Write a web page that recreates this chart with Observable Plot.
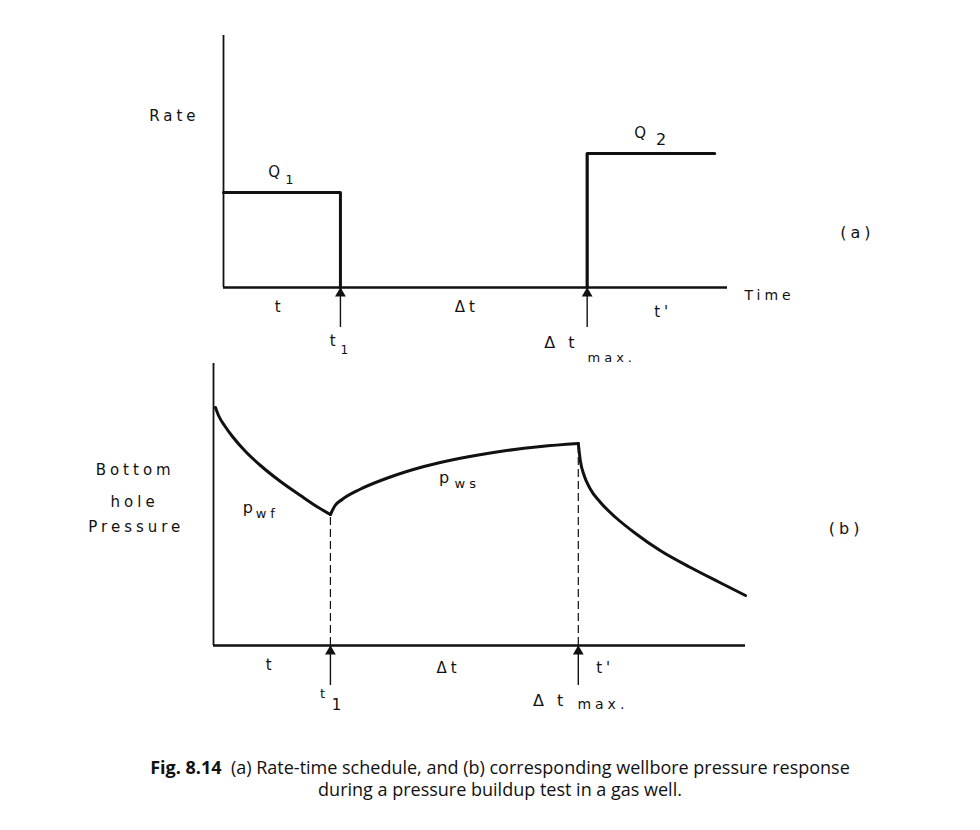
<!DOCTYPE html>
<html>
<head>
<meta charset="utf-8">
<script src="https://cdn.jsdelivr.net/npm/d3@7"></script>
<script src="https://cdn.jsdelivr.net/npm/@observablehq/plot@0.6"></script>
<style>
  body { margin: 0; background: #fff; }
  #wrap { width: 980px; }
  svg { display: block; overflow: visible; }
  .caption { font-family: "Open Sans", sans-serif; font-size: 18px; color: #111; text-align: center; line-height: 22px; margin-top: 16px; padding-left: 20px; }
  .caption b { font-weight: 700; }
</style>
</head>
<body>
<div id="wrap"></div>
<script>
// ---------- Panel (a): rate-time schedule ----------
const t1 = 1.0;          // end of first flow period
const tmaxA = 3.11;      // end of shut-in (panel a)
const tEndA = 4.2;       // end of second flow line
const Q1 = 0.95;
const Q2 = 1.34;
const q1Time = [0, t1, t1];
const q1Rate = [Q1, Q1, 0];
const q2Time = [tmaxA, tmaxA, tEndA];
const q2Rate = [0, Q2, Q2];

// ---------- Panel (b): bottom hole pressure ----------
const pwfTime = [0.017, 0.043, 0.094, 0.162, 0.274, 0.402, 0.573, 0.744, 0.897, 1.0];
const pwfPres = [2.38, 2.30, 2.20, 2.09, 1.94, 1.80, 1.64, 1.50, 1.38, 1.31];
const pwsTime = [1.0, 1.04, 1.10, 1.25, 1.50, 1.80, 2.10, 2.45, 2.80, 3.12];
const pwsPres = [1.31, 1.40, 1.46, 1.56, 1.68, 1.79, 1.87, 1.94, 1.99, 2.02];
const pdTime  = [3.12, 3.137, 3.17, 3.22, 3.31, 3.44, 3.61, 3.82, 4.08, 4.33, 4.55];
const pdPres  = [2.02, 1.85, 1.70, 1.57, 1.43, 1.28, 1.12, 0.95, 0.78, 0.63, 0.50];
const tmaxB = 3.12;

// Label texts
const labelsA = [
  {x: -0.42, y: 1.71, text: "Rate", size: 15},
  {x: 0.45, y: 1.15, text: "Q", size: 15},
  {x: 0.58, y: 1.08, text: "1", size: 13},
  {x: 3.58, y: 1.54, text: "Q", size: 15},
  {x: 3.76, y: 1.48, text: "2", size: 16},
  {x: 5.42, y: 0.55, text: "(a)", size: 16},
  {x: 4.67, y: -0.08, text: "Time", size: 14},
  {x: 0.48, y: -0.20, text: "t", size: 15},
  {x: 2.08, y: -0.20, text: "\u0394t", size: 15},
  {x: 3.76, y: -0.25, text: "t'", size: 15},
  {x: 0.95, y: -0.54, text: "t", size: 15},
  {x: 1.05, y: -0.63, text: "1", size: 12},
  {x: 2.89, y: -0.55, text: "\u0394 t", size: 16},
  {x: 3.32, y: -0.70, text: "max.", size: 13}
];
const labelsB = [
  {x: -0.67, y: 1.75, text: "Bottom", size: 15},
  {x: -0.675, y: 1.43, text: "hole", size: 15},
  {x: -0.66, y: 1.18, text: "Pressure", size: 15},
  {x: 0.31, y: 1.38, text: "p", size: 16},
  {x: 0.46, y: 1.32, text: "wf", size: 13},
  {x: 1.99, y: 1.68, text: "p", size: 16},
  {x: 2.17, y: 1.62, text: "ws", size: 13},
  {x: 5.41, y: 1.17, text: "(b)", size: 16},
  {x: 0.49, y: -0.20, text: "t", size: 15},
  {x: 2.01, y: -0.23, text: "\u0394t", size: 15},
  {x: 3.35, y: -0.23, text: "t'", size: 15},
  {x: 0.95, y: -0.48, text: "t", size: 13},
  {x: 1.07, y: -0.60, text: "1", size: 15},
  {x: 2.88, y: -0.55, text: "\u0394 t", size: 16},
  {x: 3.33, y: -0.59, text: "max.", size: 14}
];

const font = "'DejaVu Sans', 'Liberation Sans', sans-serif";
const ink = "#111";

function textMarks(labels) {
  return Plot.text(labels, {
    x: "x", y: "y", text: "text", fontSize: "size",
    textAnchor: "middle", fill: ink, fontFamily: font
  });
}
function arrowMarks(times, ySize) {
  return [
    Plot.ruleX(times, {x: d => d, y1: -0.40, y2: 0, stroke: ink, strokeWidth: 1.4}),
    Plot.dot(times, {x: d => d, y: -ySize, symbol: "triangle", r: 4, fill: ink, stroke: "none"})
  ];
}

const idx = n => d3.range(n);

const plotA = Plot.plot({
  width: 980, height: 362,
  marginLeft: 223, marginRight: 253, marginTop: 35, marginBottom: 75,
  x: {domain: [0, 4.31], axis: null},
  y: {domain: [0, 2.52], axis: null},
  style: {letterSpacing: "4px", background: "transparent", overflow: "visible"},
  marks: [
    Plot.ruleX([0], {y1: 0, y2: 2.52, stroke: ink, strokeWidth: 1.8}),
    Plot.ruleY([0], {x1: 0, x2: 4.31, stroke: ink, strokeWidth: 2.4}),
    Plot.line(idx(q1Time.length), {x: q1Time, y: q1Rate, stroke: ink, strokeWidth: 3}),
    Plot.line(idx(q2Time.length), {x: q2Time, y: q2Rate, stroke: ink, strokeWidth: 3.2}),
    ...arrowMarks([t1, tmaxA], 0.06),
    textMarks(labelsA)
  ]
});

const plotB = Plot.plot({
  width: 980, height: 378,
  marginLeft: 213, marginRight: 235, marginTop: 1, marginBottom: 95,
  x: {domain: [0, 4.55], axis: null},
  y: {domain: [0, 2.82], axis: null},
  style: {letterSpacing: "4px", background: "transparent", overflow: "visible"},
  marks: [
    Plot.ruleX([0], {y1: 0, y2: 2.82, stroke: ink, strokeWidth: 1.8}),
    Plot.ruleY([0], {x1: 0, x2: 4.55, stroke: ink, strokeWidth: 2.4}),
    Plot.ruleX([t1], {y1: 0, y2: pwfPres[pwfPres.length - 1], stroke: ink, strokeWidth: 1.2, strokeDasharray: "8,4"}),
    Plot.ruleX([tmaxB], {y1: 0, y2: pwsPres[pwsPres.length - 1], stroke: ink, strokeWidth: 1.2, strokeDasharray: "8,4"}),
    Plot.line(idx(pwfTime.length), {x: pwfTime, y: pwfPres, stroke: ink, strokeWidth: 3, curve: "monotone-x"}),
    Plot.line(idx(pwsTime.length), {x: pwsTime, y: pwsPres, stroke: ink, strokeWidth: 3, curve: "monotone-x"}),
    Plot.line(idx(pdTime.length), {x: pdTime, y: pdPres, stroke: ink, strokeWidth: 3, curve: "monotone-x"}),
    ...arrowMarks([t1, tmaxB], 0.06),
    textMarks(labelsB)
  ]
});

const wrap = document.getElementById("wrap");
wrap.appendChild(plotA);
wrap.appendChild(plotB);
const cap = document.createElement("div");
cap.className = "caption";
cap.innerHTML = "<b>Fig. 8.14</b>&nbsp; (a) Rate-time schedule, and (b) corresponding wellbore pressure response<br>during a pressure buildup test in a gas well.";
wrap.appendChild(cap);
</script>
</body>
</html>
